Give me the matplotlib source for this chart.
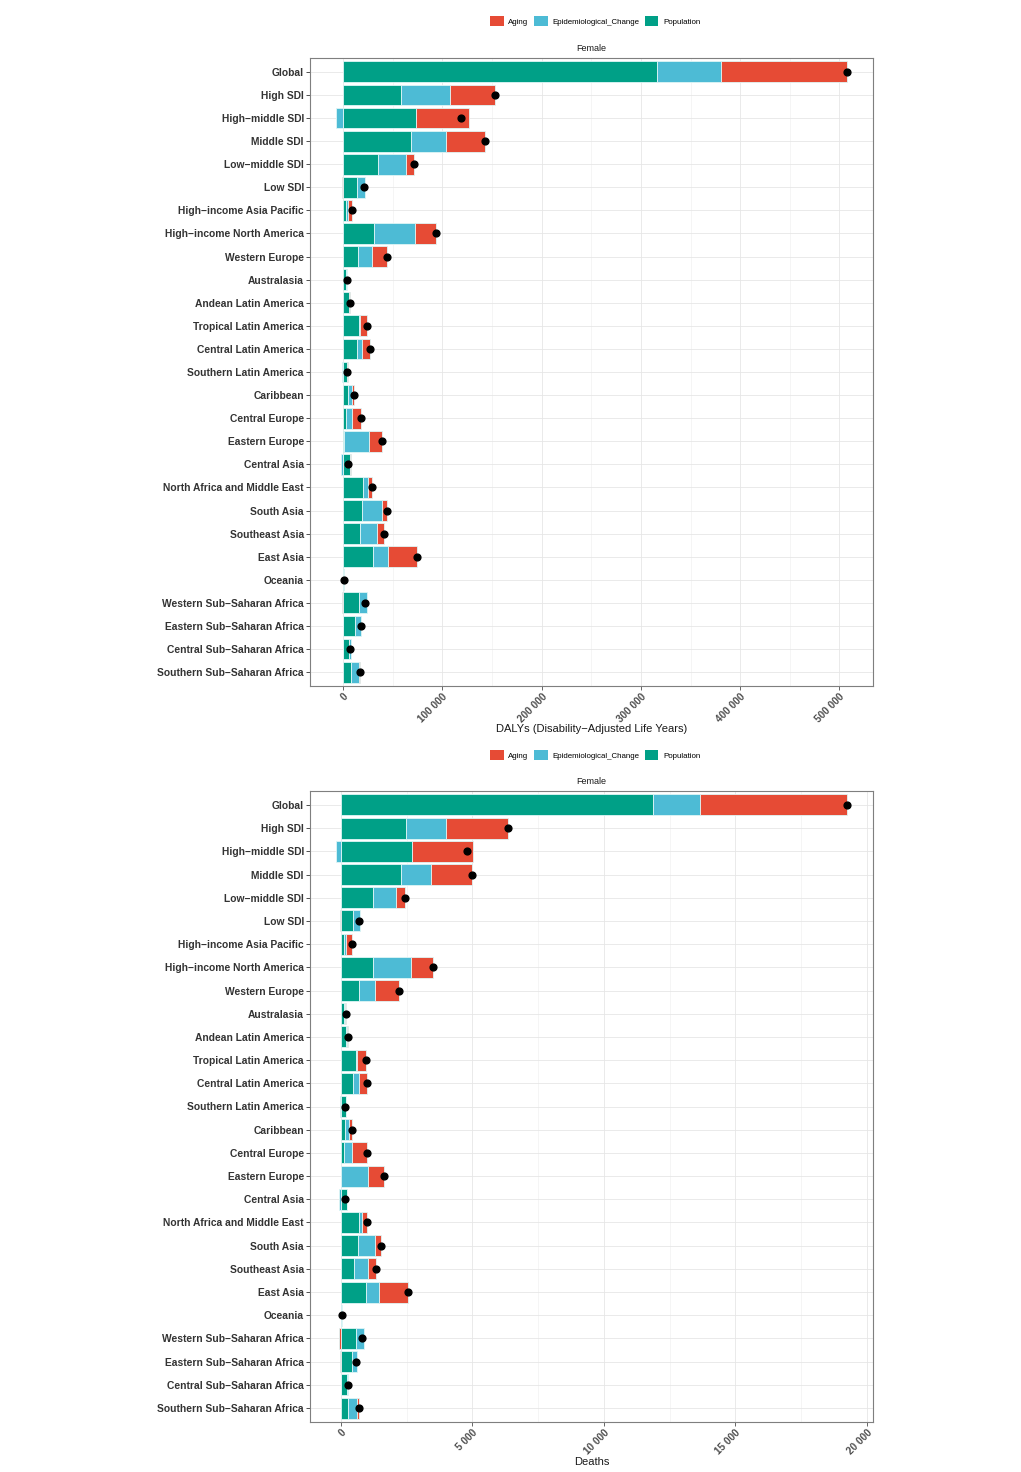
import matplotlib
matplotlib.use("Agg")
import matplotlib.pyplot as plt
import numpy as np
from matplotlib.ticker import FuncFormatter, MultipleLocator
from matplotlib.patches import Patch

plt.rcParams['font.family'] = ['Liberation Sans', 'DejaVu Sans']

regions = ["Global", "High SDI", "High\u2212middle SDI", "Middle SDI", "Low\u2212middle SDI", "Low SDI",
           "High\u2212income Asia Pacific", "High\u2212income North America", "Western Europe", "Australasia",
           "Andean Latin America", "Tropical Latin America", "Central Latin America", "Southern Latin America",
           "Caribbean", "Central Europe", "Eastern Europe", "Central Asia", "North Africa and Middle East",
           "South Asia", "Southeast Asia", "East Asia", "Oceania", "Western Sub\u2212Saharan Africa",
           "Eastern Sub\u2212Saharan Africa", "Central Sub\u2212Saharan Africa", "Southern Sub\u2212Saharan Africa"]

# DALYs decomposition
dalys_pop = [316000, 58600, 73400, 68000, 35500, 14000, 2300, 30500, 15100, 2500, 5500, 16000, 13400, 4200,
             5000, 2700, 500, 7000, 20100, 19100, 16800, 29500, 400, 15400, 12100, 6000, 7400]
dalys_epi = [65000, 49300, -7700, 35200, 27500, 7500, 2800, 41500, 13700, 1000, 600, 600, 6000, -1700,
             3400, 5700, 25300, -2700, 4700, 19800, 17400, 15400, -100, 8400, 6000, 1500, 8000]
dalys_aging = [127000, 45200, 53200, 39500, 8000, -900, 3800, 21800, 15100, 300, 600, 6900, 7700, 800,
               2000, 10000, 13700, 400, 4000, 5000, 7000, 29800, 0, -1500, -700, -500, 1700]

# Deaths decomposition
deaths_pop = [11860, 2456, 2709, 2279, 1215, 468, 127, 1203, 684, 120, 200, 570, 468, 190,
              152, 127, 20, 228, 671, 658, 494, 950, 20, 570, 430, 220, 279]
deaths_epi = [1810, 1557, -203, 1165, 887, 254, 76, 1443, 595, 40, 30, 25, 216, -40,
              164, 291, 1018, -76, 139, 633, 544, 481, 5, 316, 178, 40, 316]
deaths_aging = [5590, 2342, 2304, 1544, 341, -26, 227, 873, 924, 30, 25, 340, 291, 15,
                89, 569, 608, 13, 165, 216, 279, 1114, 0, -76, -26, -10, 89]

factors = ["Aging", "Epidemiological_Change", "Population"]
colors = {"Aging": "#E64B35", "Epidemiological_Change": "#4DBBD5", "Population": "#00A087"}

W, H = 1021, 1472
fig = plt.figure(figsize=(W / 100, H / 100), dpi=100)


def fmt(v, pos):
    return "{:,}".format(int(round(v))).replace(",", " ")


def panel(rect, pop, epi, aging, major, minor, xlabel, legend_y, xlabel_y):
    ax = fig.add_axes(rect)
    n = len(regions)
    y = np.arange(n)[::-1]
    pos_base = np.zeros(n)
    neg_base = np.zeros(n)
    # stack: Population nearest zero, then Epi, then Aging
    for name, vals in [("Population", pop), ("Epidemiological_Change", epi), ("Aging", aging)]:
        vals = np.array(vals, dtype=float)
        left = np.where(vals >= 0, pos_base, neg_base)
        ax.barh(y, vals, left=left, height=0.9, color=colors[name],
                edgecolor="#dff6f6", linewidth=0.6, zorder=3)
        pos_base = pos_base + np.where(vals >= 0, vals, 0)
        neg_base = neg_base + np.where(vals < 0, vals, 0)
    total = np.array(pop) + np.array(epi) + np.array(aging)
    ax.scatter(total, y, s=24, color="black", zorder=5)
    lo = min(neg_base.min(), 0)
    hi = max(pos_base.max(), total.max())
    rng = hi - lo
    ax.set_xlim(lo - 0.05 * rng, hi + 0.05 * rng)
    ax.set_ylim(-0.6, n - 0.4)
    ax.set_yticks(y)
    ax.set_yticklabels(regions, fontsize=7.4, fontweight="bold", color="#4d4d4d")
    ax.xaxis.set_major_locator(MultipleLocator(major))
    ax.xaxis.set_minor_locator(MultipleLocator(minor))
    ax.xaxis.set_major_formatter(FuncFormatter(fmt))
    ax.tick_params(axis="x", labelsize=7.2, colors="#4d4d4d", length=3, width=0.6, pad=1)
    ax.tick_params(axis="x", which="minor", length=0)
    ax.tick_params(axis="y", length=3, width=0.6, colors="#333333", pad=1.5)
    plt.setp(ax.get_xticklabels(), rotation=45, ha="right", va="top", rotation_mode="anchor",
             fontweight="bold", color="#4d4d4d")
    ax.grid(True, which="major", color="#e6e6e6", linewidth=0.6, zorder=0)
    ax.grid(True, which="minor", axis="x", color="#f2f2f2", linewidth=0.5, zorder=0)
    ax.set_axisbelow(True)
    for s in ax.spines.values():
        s.set_color("#7f7f7f")
        s.set_linewidth(0.8)
    x_center = rect[0] + rect[2] / 2
    fig.text(x_center, 1 - xlabel_y / H, xlabel, ha="center", va="center",
             fontsize=8, color="#1a1a1a")
    ax.text(0.5, 1.008, "Female", transform=ax.transAxes, ha="center", va="bottom",
            fontsize=6.5, color="#1a1a1a")
    handles = [Patch(facecolor=colors[f], edgecolor="none") for f in factors]
    fig.legend(handles, factors, loc="center", bbox_to_anchor=(0.583, legend_y), ncol=3,
               frameon=False, fontsize=5.7, handlelength=1.7, handleheight=1.6,
               handletextpad=0.6, columnspacing=0.7)
    return ax


l = 310 / W
w = (873 - 310) / W
panel([l, 1 - 686 / H, w, (686 - 58) / H], dalys_pop, dalys_epi, dalys_aging, 100000, 50000,
      "DALYs (Disability\u2212Adjusted Life Years)", 1 - 21 / H, 729)
panel([l, 1 - 1422 / H, w, (1422 - 791) / H], deaths_pop, deaths_epi, deaths_aging, 5000, 2500,
      "Deaths", 1 - 755 / H, 1462)

fig.savefig("out.png", dpi=100, facecolor="white")
